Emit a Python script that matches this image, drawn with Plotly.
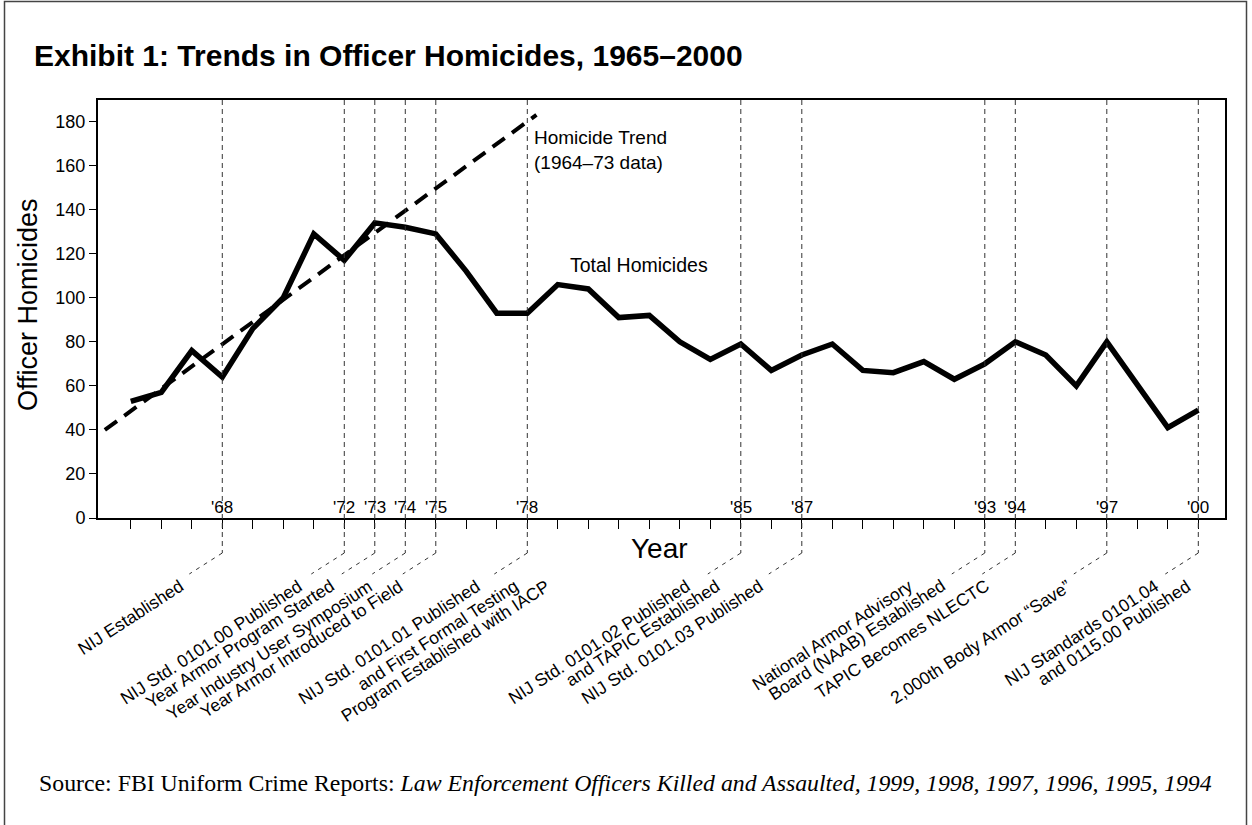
import plotly.graph_objects as go

# ---------------- data ----------------
years = list(range(1965, 2001))
total_homicides = [53, 57, 76, 64, 86, 100, 129, 117, 134, 132, 129, 112, 93, 93,
                   106, 104, 91, 92, 80, 72, 79, 67, 74, 79, 67, 66, 71, 63,
                   70, 80, 74, 60, 80, 61, 41, 49]
trend_years = [1964.15, 1978.3]
trend_values = [40, 183]

event_years = [1968, 1972, 1973, 1974, 1975, 1978, 1985, 1987, 1993, 1994, 1997, 2000]
event_ticks = ["'68", "'72", "'73", "'74", "'75", "'78", "'85", "'87", "'93", "'94", "'97", "'00"]
event_lines = [
    ["NIJ Established"],
    ["NIJ Std. 0101.00 Published"],
    ["Year Armor Program Started"],
    ["Year Industry User Symposium"],
    ["Year Armor Introduced to Field"],
    ["NIJ Std. 0101.01 Published", "and First Formal Testing", "Program Established with IACP"],
    ["NIJ Std. 0101.02 Published", "and TAPIC Established"],
    ["NIJ Std. 0101.03 Published"],
    ["National Armor Advisory", "Board (NAAB) Established"],
    ["TAPIC Becomes NLECTC"],
    ["2,000th Body Armor \u201cSave\u201d"],
    ["NIJ Standards 0101.04", "and 0115.00 Published"],
]
y_ticks = list(range(0, 181, 20))

# ---------------- style / layout constants ----------------
W, H = 1252, 825
ML, MR, MT, MB = 98, 27, 100, 307
PW, PH = W - ML - MR, H - MT - MB
SANS = "Liberation Sans, Arial, Helvetica, sans-serif"
SERIF = "Liberation Serif, Times New Roman, serif"
ANG = 33
LABEL_SIZE = 17.5
# horizontal pixel offset of each label line's end from its event line
LINE_END_OFFSETS = [[-40], [-44], [-43], [-35], [-35], [-49, -11, 20], [-53, -23],
                    [-41], [-74, -42], [-28], [-38], [-42, -10]]
LABEL_XSHIFT_ADJ = 8.3
LABEL_YSHIFT = -55


def px_x(px):
    return (px - ML) / PW


def px_y(py):
    return (H - MB - py) / PH


fig = go.Figure()
fig.add_trace(go.Scatter(x=trend_years, y=trend_values, mode="lines",
                         line=dict(color="black", width=4, dash="15px,9px"),
                         hoverinfo="skip", showlegend=False))
fig.add_trace(go.Scatter(x=years, y=total_homicides, mode="lines",
                         line=dict(color="black", width=5.5),
                         showlegend=False))

shapes = []
annotations = []
for yr, tk, lines, offs in zip(event_years, event_ticks, event_lines, LINE_END_OFFSETS):
    shapes.append(dict(type="line", xref="x", yref="paper", ysizemode="pixel",
                       yanchor=0, x0=yr, x1=yr, y0=PH, y1=-35,
                       line=dict(color="#333", width=1, dash="5px,4px"), layer="above"))
    shapes.append(dict(type="line", xref="x", xsizemode="pixel", xanchor=yr,
                       yref="paper", ysizemode="pixel", yanchor=0,
                       x0=0, x1=-33, y0=-35, y1=-56,
                       line=dict(color="#333", width=1, dash="4px,5px"), layer="above"))
    annotations.append(dict(x=yr, y=0, xref="x", yref="y", text=tk, showarrow=False,
                            xanchor="center", yanchor="bottom", yshift=-1,
                            font=dict(family=SANS, size=17, color="black")))
    for line, off in zip(lines, offs):
        annotations.append(dict(x=yr, y=0, xref="x", yref="y", text=line, showarrow=False,
                                xanchor="right", yanchor="top",
                                textangle=-ANG, xshift=off + LABEL_XSHIFT_ADJ,
                                yshift=LABEL_YSHIFT,
                                font=dict(family=SANS, size=LABEL_SIZE, color="black")))

annotations += [
    dict(x=1978, y=166.9, xref="x", yref="y", xshift=5, text="Homicide Trend<br>(1964\u201373 data)",
         showarrow=False, xanchor="left", yanchor="middle", align="left",
         font=dict(family=SANS, size=19, color="black")),
    dict(x=1979.32, y=114.9, xref="x", yref="y", text="Total Homicides",
         showarrow=False, xanchor="left", yanchor="middle",
         font=dict(family=SANS, size=19.5, color="black")),
    dict(x=px_x(659), y=px_y(548), xref="paper", yref="paper", text="Year",
         showarrow=False, xanchor="center", yanchor="middle",
         font=dict(family=SANS, size=28, color="black")),
    dict(x=px_x(28), y=px_y(305), xref="paper", yref="paper", text="Officer Homicides",
         showarrow=False, xanchor="center", yanchor="middle", textangle=-90,
         font=dict(family=SANS, size=27, color="black")),
    dict(x=px_x(37), y=px_y(783), xref="paper", yref="paper",
         text="Source: FBI Uniform Crime Reports: <i>Law Enforcement Officers Killed and Assaulted, "
              "1999, 1998, 1997, 1996, 1995, 1994</i>",
         showarrow=False, xanchor="left", yanchor="middle",
         font=dict(family=SERIF, size=23.8, color="black")),
]

# outer frame
shapes.append(dict(type="rect", xref="paper", yref="paper",
                   x0=px_x(4.5), x1=px_x(1246.5), y0=px_y(840), y1=px_y(1.5),
                   line=dict(color="#444", width=1.5), layer="below"))

fig.update_layout(
    width=W, height=H,
    margin=dict(l=ML, r=MR, t=MT, b=MB),
    paper_bgcolor="white", plot_bgcolor="white",
    title=dict(text="<b>Exhibit 1: Trends in Officer Homicides, 1965\u20132000</b>",
               x=34 / W, xanchor="left", xref="container",
               y=1 - 55 / H, yanchor="middle", yref="container",
               font=dict(family=SANS, size=30, color="black")),
    xaxis=dict(range=[1963.925, 2000.875], showgrid=False, zeroline=False,
               showline=True, linecolor="black", linewidth=2, mirror=True,
               tickmode="array", tickvals=years, ticks="outside", ticklen=9,
               tickwidth=1, tickcolor="black", showticklabels=False),
    yaxis=dict(range=[0, 189.8], showgrid=False, zeroline=False,
               showline=True, linecolor="black", linewidth=2, mirror=True,
               tickmode="array", tickvals=y_ticks, ticks="outside", ticklen=7,
               tickwidth=1, tickcolor="black",
               tickfont=dict(family=SANS, size=18, color="black")),
    shapes=shapes, annotations=annotations,
    showlegend=False,
)

fig.write_html("out.html", config={"displayModeBar": False},
               post_script="document.body.style.margin='0px';")
